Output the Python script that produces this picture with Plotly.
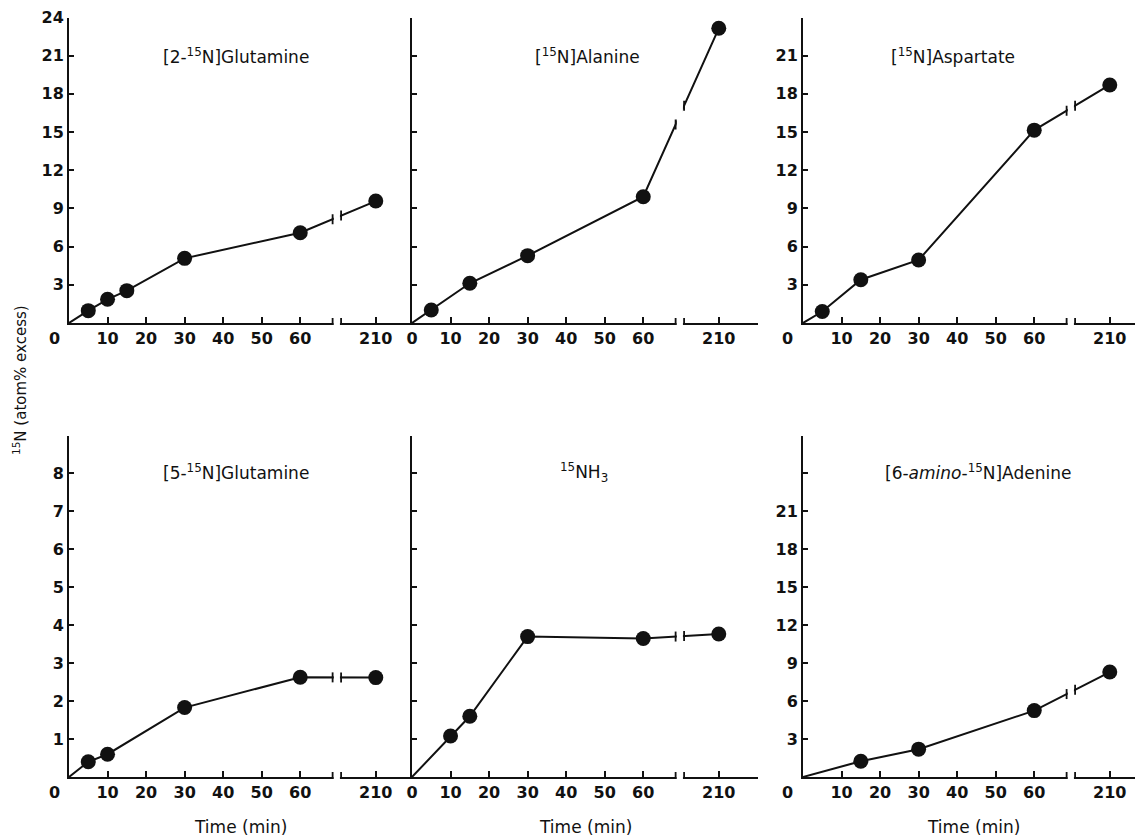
import numpy as np
import plotly.graph_objects as go

# ---------------- data ----------------
TIMES_GLN2 = [5, 10, 15, 30, 60, 210]
GLN2 = [0.97, 1.86, 2.54, 5.08, 7.09, 9.58]

TIMES_ALA = [5, 15, 30, 60, 210]
ALA = [1.02, 3.12, 5.29, 9.92, 23.15]

TIMES_ASP = [5, 15, 30, 60, 210]
ASP = [0.9, 3.4, 4.95, 15.15, 18.7]

TIMES_GLN5 = [5, 10, 30, 60, 210]
GLN5 = [0.4, 0.6, 1.83, 2.63, 2.62]

TIMES_NH3 = [10, 15, 30, 60, 210]
NH3 = [1.08, 1.6, 3.7, 3.65, 3.77]

TIMES_ADE = [15, 30, 60, 210]
ADE = [1.25, 2.2, 5.25, 8.3]

TITLES = ["[2-<sup>15</sup>N]Glutamine", "[<sup>15</sup>N]Alanine", "[<sup>15</sup>N]Aspartate",
          "[5-<sup>15</sup>N]Glutamine", "<sup>15</sup>NH<sub>3</sub>",
          "[6-<i>amino</i>-<sup>15</sup>N]Adenine"]
X_TICKS = [10, 20, 30, 40, 50, 60]
X_TICK_LABELS = ["10", "20", "30", "40", "50", "60"]
LATE_TIME = 210
Y_TITLE = "<sup>15</sup>N (atom% excess)"
X_TITLE = "Time (min)"

# ---------------- layout geometry ----------------
W, H = 1143, 838
OFF = 8                  # page body margin compensation (px)
PX_PER_U = 3.854
COLS = [(69 - OFF, 412 - OFF), (412 - OFF, 758 - OFF), (803 - OFF, 1143 - OFF)]
ROWS = [(323 - OFF, 17.5 - OFF), (777 - OFF, 435.5 - OFF)]
U_LATE = 79.6            # axis position of the 210 min point (broken axis)
BRK = (68.4, 70.6)       # axis break
FONT = "DejaVu Sans"
INK = "#111111"


def pos(t):
    return t if t <= 60 else U_LATE


panels = [
    dict(t=TIMES_GLN2, v=GLN2, ymax=24, step=3, labels=list(range(3, 25, 3)), zero="shift", end_tick=False,
         tx=0.487),
    dict(t=TIMES_ALA, v=ALA, ymax=24, step=3, labels=[], zero="center", end_tick=True, tx=0.507),
    dict(t=TIMES_ASP, v=ASP, ymax=24, step=3, labels=list(range(3, 22, 3)), zero="shift", end_tick=False,
         tx=0.442),
    dict(t=TIMES_GLN5, v=GLN5, ymax=9, step=1, labels=list(range(1, 9)), zero="shift", end_tick=False,
         tx=0.487),
    dict(t=TIMES_NH3, v=NH3, ymax=9, step=1, labels=[], zero="center", end_tick=True, tx=0.497),
    dict(t=TIMES_ADE, v=ADE, ymax=27, step=3, labels=list(range(3, 22, 3)), zero="shift", end_tick=False,
         tx=0.516),
]

fig = go.Figure()
layout = dict(
    template="none",
    width=W, height=H, margin=dict(l=0, r=0, t=0, b=0, pad=0, autoexpand=False),
    paper_bgcolor="white", plot_bgcolor="white", showlegend=False,
    font=dict(family=FONT, color=INK),
)
shapes = []
annotations = []

tickfont = dict(family=FONT, size=16, color=INK, weight="bold")

for i, p in enumerate(panels):
    r, c = divmod(i, 3)
    x0p, x1p = COLS[c]
    base, top = ROWS[r]
    xa = "x" if i == 0 else f"x{i + 1}"
    ya = "y" if i == 0 else f"y{i + 1}"
    xkey = "xaxis" if i == 0 else f"xaxis{i + 1}"
    ykey = "yaxis" if i == 0 else f"yaxis{i + 1}"
    xend = (x1p - x0p) / PX_PER_U

    xt_vals = list(X_TICKS) + [U_LATE]
    xt_text = list(X_TICK_LABELS) + [str(LATE_TIME)]
    if p["zero"] == "center":
        xt_vals = [0] + xt_vals
        xt_text = ["0"] + xt_text
    if p["end_tick"]:
        xt_vals.append(xend - 0.25)
        xt_text.append("")

    layout[xkey] = dict(
        domain=[x0p / W, x1p / W], range=[0, xend], anchor=ya, automargin=False,
        showline=True, linecolor=INK, linewidth=2, showgrid=False, zeroline=False,
        ticks="inside", ticklen=6, tickwidth=1.5, tickcolor=INK,
        tickmode="array", tickvals=xt_vals, ticktext=xt_text, tickfont=tickfont,
        fixedrange=True,
    )
    yvals = list(range(p["step"], p["ymax"] + 1, p["step"]))
    ytext = [str(v) if v in p["labels"] else "" for v in yvals]
    layout[ykey] = dict(
        domain=[(H - base) / H, (H - top) / H], range=[0, p["ymax"]], anchor=xa, automargin=False,
        showline=True, linecolor=INK, linewidth=2, showgrid=False, zeroline=False,
        ticks="inside", ticklen=5, tickwidth=1.5, tickcolor=INK,
        tickmode="array", tickvals=yvals, ticktext=ytext, tickfont=tickfont,
        showticklabels=bool(p["labels"]), fixedrange=True,
    )

    xs = [pos(t) for t in p["t"]]
    fig.add_trace(go.Scatter(x=[0] + xs, y=[0] + list(p["v"]), mode="lines",
                             line=dict(color=INK, width=2), xaxis=xa, yaxis=ya,
                             cliponaxis=False, hoverinfo="skip"))
    fig.add_trace(go.Scatter(x=xs, y=p["v"], mode="markers",
                             marker=dict(color=INK, size=15, line=dict(width=0)),
                             xaxis=xa, yaxis=ya, cliponaxis=False))

    # axis break: white gap + bars on the axis and on the data line
    shapes.append(dict(type="rect", xref=xa, yref=f"{ya} domain", x0=BRK[0] + 0.3, x1=BRK[1] - 0.3,
                       y0=-0.03, y1=1, fillcolor="white", line=dict(width=0), layer="above"))
    yl = np.interp(BRK, [pos(p["t"][-2]), pos(p["t"][-1])], [p["v"][-2], p["v"][-1]])
    for bx, by in zip(BRK, yl):
        for anchor in (0, float(by)):
            shapes.append(dict(type="line", xref=xa, yref=ya, x0=bx, x1=bx,
                               ysizemode="pixel", yanchor=anchor, y0=-5, y1=5,
                               line=dict(color=INK, width=1.8), layer="above"))

    # panel title
    annotations.append(dict(text=TITLES[i], xref=f"{xa} domain", yref=f"{ya} domain",
                            x=p["tx"], y=0.875 if r == 0 else 0.893, showarrow=False,
                            xanchor="center", yanchor="middle",
                            font=dict(family=FONT, size=17, color=INK)))
    # corner "0" shifted left of the origin
    if p["zero"] == "shift":
        annotations.append(dict(text="0", xref=f"{xa} domain", yref=f"{ya} domain", x=0, y=0,
                                xanchor="center", yanchor="top", xshift=-15, yshift=-4,
                                showarrow=False, font=tickfont))
    if r == 1:
        annotations.append(dict(text=X_TITLE, xref=f"{xa} domain", yref=f"{ya} domain",
                                x=0.5, y=0, xanchor="center", yanchor="middle", yshift=-50,
                                showarrow=False, font=dict(family=FONT, size=17, color=INK)))

annotations.append(dict(text=Y_TITLE, xref="paper", yref="paper", x=(20 - OFF) / W, y=(H - 380 + OFF) / H,
                        textangle=-90, showarrow=False, xanchor="center", yanchor="middle",
                        font=dict(family=FONT, size=15, color=INK)))

layout["shapes"] = shapes
layout["annotations"] = annotations
fig.update_layout(**layout)
fig.write_html("out.html")
